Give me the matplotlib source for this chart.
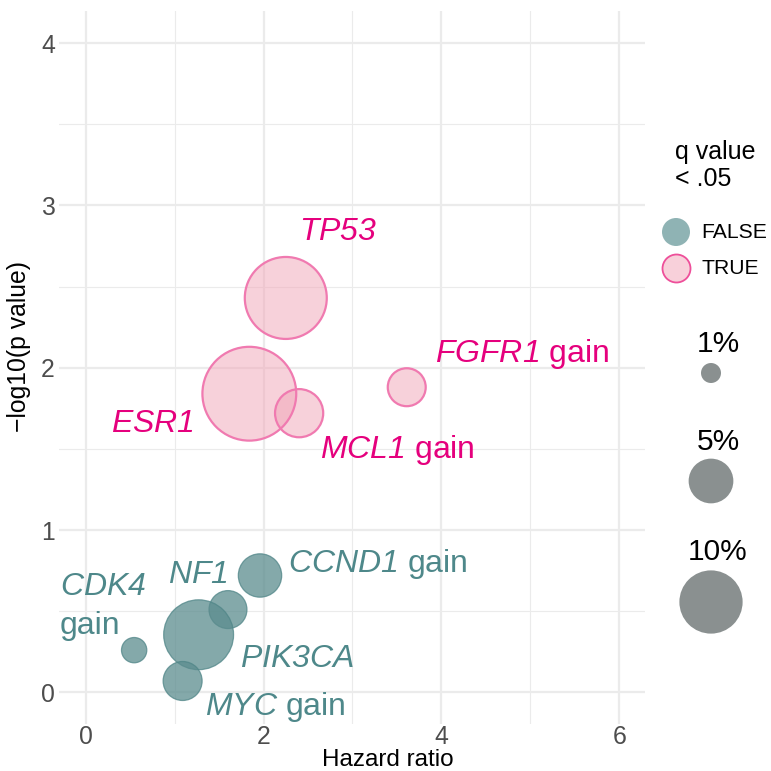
import numpy as np
import matplotlib
matplotlib.use("Agg")
import matplotlib.pyplot as plt

plt.rcParams['font.family'] = ['Liberation Sans', 'DejaVu Sans']
plt.rcParams['mathtext.fontset'] = 'custom'
# \mathsf is used for the italic gene names so digits stay italic too
plt.rcParams['mathtext.sf'] = 'Liberation Sans:italic'
plt.rcParams['mathtext.rm'] = 'Liberation Sans'

# data
genes = ['TP53', 'ESR1', 'MCL1', 'FGFR1', 'CCND1', 'NF1', 'PIK3CA', 'CDK4', 'MYC']
labels = [r'$\mathsf{TP53}$', r'$\mathsf{ESR1}$', r'$\mathsf{MCL1}$ gain',
          r'$\mathsf{FGFR1}$ gain', r'$\mathsf{CCND1}$ gain', r'$\mathsf{NF1}$',
          r'$\mathsf{PIK3CA}$', '$\\mathsf{CDK4}$\ngain', r'$\mathsf{MYC}$ gain']
hazard_ratio = [2.25, 1.84, 2.40, 3.61, 1.96, 1.60, 1.27, 0.545, 1.09]
neg_log_p = [2.43, 1.84, 1.72, 1.88, 0.72, 0.51, 0.355, 0.26, 0.07]
freq_pct = [16.8, 22.0, 5.8, 3.6, 4.7, 3.6, 12.2, 1.6, 3.8]
q_signif = [True, True, True, True, False, False, False, False, False]

size_breaks = [1, 5, 10]
size_labels = ['1%', '5%', '10%']

# label offsets (points) from each bubble, as placed in the picture
label_dx = [37.4, -70, 71, 83.3, 85, -21.7, 71, -53.4, 66.4]
label_dy = [41.8, -27.4, -32.4, 17.9, 2.7, 19.1, -23.4, 11.4, -24.5]
label_ha = ['center', 'center', 'center', 'center', 'center', 'center', 'center', 'left', 'center']

TEAL_FILL = '#5B8C8E'
TEAL_EDGE = '#4F8587'
TEAL_TEXT = '#4E888A'
PINK_FILL = '#F1A5B7'
PINK_EDGE = '#F07AB0'
PINK_TEXT = '#E5007D'
GRID = '#EBEBEB'

W = 771


def bubble_area(pct):
    # radius ~ 10 px * sqrt(pct) -> area in pt^2
    return (0.72 * 2 * 10 * np.sqrt(np.asarray(pct, dtype=float))) ** 2


def fx(px):
    return px / W


def fy(py):
    return 1 - py / W


fig = plt.figure(figsize=(7.71, 7.71), dpi=100)
ax = fig.add_axes([fx(59), fy(724), (645 - 59) / W, (724 - 11) / W])
ax.set_xlim(-0.300, 6.289)
ax.set_ylim(-0.195, 4.198)

ax.set_xticks([0, 2, 4, 6])
ax.set_xticks([1, 3, 5], minor=True)
ax.set_yticks([0, 1, 2, 3, 4])
ax.set_yticks([0.5, 1.5, 2.5, 3.5], minor=True)
ax.grid(True, which='major', color=GRID, lw=1.6)
ax.grid(True, which='minor', color=GRID, lw=0.8)
ax.set_axisbelow(True)
for s in ax.spines.values():
    s.set_visible(False)
ax.tick_params(which='both', length=0, labelsize=17.8, labelcolor='#4D4D4D', pad=3)
ax.tick_params(axis='x', pad=1)

hr = np.array(hazard_ratio)
lp = np.array(neg_log_p)
fr = np.array(freq_pct)
sig = np.array(q_signif)

ax.scatter(hr[~sig], lp[~sig], s=bubble_area(fr[~sig]), c=TEAL_FILL, alpha=0.75,
           edgecolors=TEAL_EDGE, linewidths=0.9, zorder=3)
ax.scatter(hr[sig], lp[sig], s=bubble_area(fr[sig]), c=PINK_FILL, alpha=0.5,
           edgecolors='none', zorder=3)
ax.scatter(hr[sig], lp[sig], s=bubble_area(fr[sig]), facecolors='none',
           edgecolors=PINK_EDGE, linewidths=1.6, zorder=4)

for i, lab in enumerate(labels):
    ax.annotate(lab, (hazard_ratio[i], neg_log_p[i]), xytext=(label_dx[i], label_dy[i]),
                textcoords='offset points', ha=label_ha[i], va='baseline',
                multialignment='left', linespacing=1.42,
                fontsize=23, color=PINK_TEXT if q_signif[i] else TEAL_TEXT, zorder=5)

fig.text(fx(387.5), fy(765.5), 'Hazard ratio', ha='center', va='baseline', fontsize=17.5)
fig.text(fx(19), fy(347), '\u2212log10(p value)', ha='center', va='center',
         rotation=90, fontsize=17.8)

# legend, drawn by hand in pixel space
lax = fig.add_axes([0, 0, 1, 1])
lax.set_xlim(0, W)
lax.set_ylim(W, 0)
lax.axis('off')
lax.patch.set_visible(False)

fig.text(fx(675), fy(159), 'q value', ha='left', va='baseline', fontsize=18)
fig.text(fx(675), fy(186), '< .05', ha='left', va='baseline', fontsize=18)

lax.scatter([676], [232], s=(0.72 * 28) ** 2, c='#8FB3B4', edgecolors='none')
lax.scatter([676], [268], s=(0.72 * 28) ** 2, c='#F8D0DA', edgecolors='#EE4F9A', linewidths=1.3)
fig.text(fx(701), fy(232), 'FALSE', ha='left', va='center', fontsize=15.2)
fig.text(fx(701), fy(268), 'TRUE', ha='left', va='center', fontsize=15.2)

key_text_y = [352, 450, 560]
key_circle_y = [373, 481, 602]
for brk, lab, ty, cy in zip(size_breaks, size_labels, key_text_y, key_circle_y):
    fig.text(fx(718), fy(ty), lab, ha='center', va='baseline', fontsize=21.5)
    lax.scatter([711], [cy], s=bubble_area(brk), c='#8A9090', edgecolors='none')

fig.savefig('out.png', dpi=100)
